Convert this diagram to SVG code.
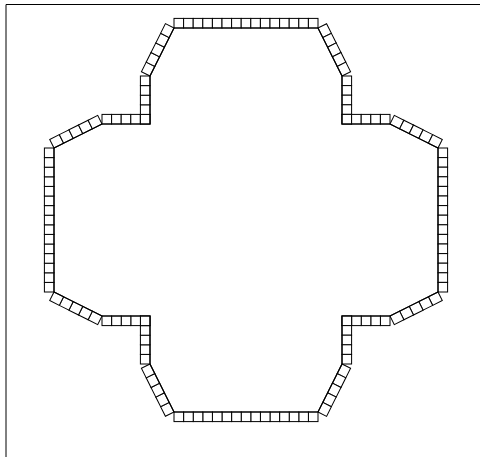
<svg xmlns="http://www.w3.org/2000/svg" xmlns:xlink="http://www.w3.org/1999/xlink" width="480" height="457" viewBox="0 0 480 457">
<style>
.t{fill:#fff;stroke:#000;stroke-width:1}
.edge{fill:none;stroke:#000;stroke-width:1.2}
.frame{fill:none;stroke:#000;stroke-width:1}
</style>
<defs>
<g id="row15">
<rect class="t" x="0" y="-9.6" width="9.6" height="9.6"/>
<rect class="t" x="9.6" y="-9.6" width="9.6" height="9.6"/>
<rect class="t" x="19.2" y="-9.6" width="9.6" height="9.6"/>
<rect class="t" x="28.8" y="-9.6" width="9.6" height="9.6"/>
<rect class="t" x="38.4" y="-9.6" width="9.6" height="9.6"/>
<rect class="t" x="48" y="-9.6" width="9.6" height="9.6"/>
<rect class="t" x="57.6" y="-9.6" width="9.6" height="9.6"/>
<rect class="t" x="67.2" y="-9.6" width="9.6" height="9.6"/>
<rect class="t" x="76.8" y="-9.6" width="9.6" height="9.6"/>
<rect class="t" x="86.4" y="-9.6" width="9.6" height="9.6"/>
<rect class="t" x="96" y="-9.6" width="9.6" height="9.6"/>
<rect class="t" x="105.6" y="-9.6" width="9.6" height="9.6"/>
<rect class="t" x="115.2" y="-9.6" width="9.6" height="9.6"/>
<rect class="t" x="124.8" y="-9.6" width="9.6" height="9.6"/>
<rect class="t" x="134.4" y="-9.6" width="9.6" height="9.6"/>
</g>
<g id="row5">
<rect class="t" x="0" y="-9.6" width="9.6" height="9.6"/>
<rect class="t" x="9.6" y="-9.6" width="9.6" height="9.6"/>
<rect class="t" x="19.2" y="-9.6" width="9.6" height="9.6"/>
<rect class="t" x="28.8" y="-9.6" width="9.6" height="9.6"/>
<rect class="t" x="38.4" y="-9.6" width="9.6" height="9.6"/>
</g>
<g id="diag5">
<rect class="t" x="0" y="-9.6" width="10.73" height="9.6"/>
<rect class="t" x="10.73" y="-9.6" width="10.73" height="9.6"/>
<rect class="t" x="21.47" y="-9.6" width="10.73" height="9.6"/>
<rect class="t" x="32.2" y="-9.6" width="10.73" height="9.6"/>
<rect class="t" x="42.94" y="-9.6" width="10.73" height="9.6"/>
</g>
</defs>
<rect x="0" y="0" width="480" height="457" fill="#fff"/>
<path class="frame" d="M6,457 V4.5 H480"/>
<g id="tiles">
<use xlink:href="#row15" transform="translate(174,28)"/>
<use xlink:href="#diag5" transform="translate(318,28) rotate(63.435)"/>
<use xlink:href="#row5" transform="translate(342,76) rotate(90)"/>
<use xlink:href="#row5" transform="translate(342,124)"/>
<use xlink:href="#diag5" transform="translate(390,124) rotate(26.565)"/>
<use xlink:href="#row15" transform="translate(438,148) rotate(90)"/>
<use xlink:href="#diag5" transform="translate(438,292) rotate(153.435)"/>
<use xlink:href="#row5" transform="translate(390,316) rotate(180)"/>
<use xlink:href="#row5" transform="translate(342,316) rotate(90)"/>
<use xlink:href="#diag5" transform="translate(342,364) rotate(116.565)"/>
<use xlink:href="#row15" transform="translate(318,412) rotate(180)"/>
<use xlink:href="#diag5" transform="translate(174,412) rotate(-116.565)"/>
<use xlink:href="#row5" transform="translate(150,364) rotate(-90)"/>
<use xlink:href="#row5" transform="translate(150,316) rotate(180)"/>
<use xlink:href="#diag5" transform="translate(102,316) rotate(-153.435)"/>
<use xlink:href="#row15" transform="translate(54,292) rotate(-90)"/>
<use xlink:href="#diag5" transform="translate(54,148) rotate(-26.565)"/>
<use xlink:href="#row5" transform="translate(102,124)"/>
<use xlink:href="#row5" transform="translate(150,124) rotate(-90)"/>
<use xlink:href="#diag5" transform="translate(150,76) rotate(-63.435)"/>
</g>
<g id="outline">
<path class="edge" d="M174,28 H318 L342,76 V124 H390 L438,148 V292 L390,316 H342 V364 L318,412 H174 L150,364 V316 H102 L54,292 V148 L102,124 H150 V76 Z"/>
</g>
</svg>
